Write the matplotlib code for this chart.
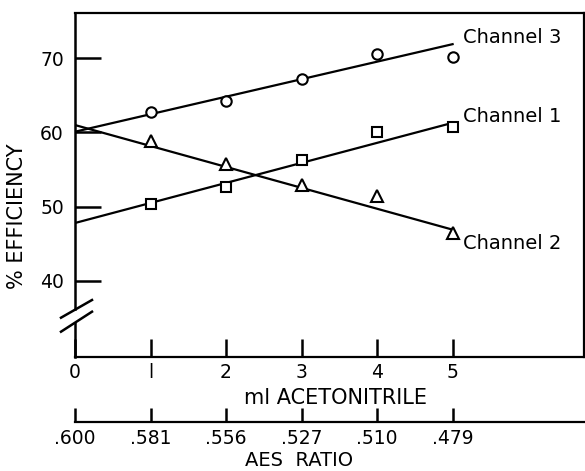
import numpy as np
import matplotlib
matplotlib.use("Agg")
import matplotlib.pyplot as plt
from matplotlib.lines import Line2D

# data
ml = [1, 2, 3, 4, 5]
ch1 = [50.4, 52.6, 56.3, 60.0, 60.8]   # squares
ch2 = [58.8, 55.8, 52.9, 51.4, 46.5]   # triangles
ch3 = [62.7, 64.2, 67.2, 70.6, 70.2]   # circles

# fitted lines (end points at 0 and 5 ml)
fit_x = [0, 5]
fit1 = [47.8, 61.3]
fit2 = [61.0, 46.9]
fit3 = [60.1, 71.9]

aes_pos = [0, 1, 2, 3, 4, 5]
aes_labels = [".600", ".581", ".556", ".527", ".510", ".479"]

W, H = 585, 471
fig = plt.figure(figsize=(W / 100, H / 100), dpi=100)
plt.rcParams['font.family'] = ['DejaVu Sans']

L, R, T, B = 75, 584, 13, 357
ax = fig.add_axes([L / W, 1 - B / H, (R - L) / W, (B - T) / H])
ax.set_xlim(0, 6.74)
ax.set_ylim(29.74, 76.1)

lw = 1.6
ax.plot(fit_x, fit3, color='black', lw=lw)
ax.plot(fit_x, fit1, color='black', lw=lw)
ax.plot(fit_x, fit2, color='black', lw=lw)
ax.plot(ml, ch3, 'o', mfc='white', mec='black', mew=1.5, ms=7.5)
ax.plot(ml, ch1, 's', mfc='white', mec='black', mew=1.5, ms=7.5)
ax.plot(ml, ch2, '^', mfc='white', mec='black', mew=1.5, ms=8.5)

ax.text(5.14, 72.8, "Channel 3", fontsize=14, va='center', ha='left')
ax.text(5.14, 62.1, "Channel 1", fontsize=14, va='center', ha='left')
ax.text(5.14, 45.1, "Channel 2", fontsize=14, va='center', ha='left')

ax.set_yticks([40, 50, 60, 70])
ax.set_xticks([0, 1, 2, 3, 4, 5])
ax.tick_params(axis='y', direction='in', length=19, width=1.8, labelsize=13.5, pad=8)
ax.tick_params(axis='x', direction='in', length=13, width=1.8, labelsize=13.5, pad=4)
ax.set_xticklabels(["0", "l", "2", "3", "4", "5"])
for s in ['top', 'right', 'bottom']:
    ax.spines[s].set_linewidth(1.6)

# left spine with a break
ax.spines['left'].set_visible(False)
tr = ax.get_yaxis_transform()
ax.plot([0, 0], [36.2, 76.1], transform=tr, color='black', lw=1.8, clip_on=False)
ax.plot([0, 0], [29.74, 34.3], transform=tr, color='black', lw=1.8, clip_on=False)
for y0, y1 in [(317.7, 300.0), (331.7, 311.7)]:
    fig.add_artist(Line2D([61 / W, 92 / W], [1 - y0 / H, 1 - y1 / H],
                          color='black', lw=1.8))

ax.set_xlabel("ml ACETONITRILE", fontsize=15, va='center', ha='center')
ax.xaxis.set_label_coords(335.5 / W, 1 - 397.5 / H, transform=fig.transFigure)
ax.set_ylabel("% EFFICIENCY", fontsize=15, va='center', ha='center')
ax.yaxis.set_label_coords(17 / W, 1 - 216 / H, transform=fig.transFigure)

# second scale: AES ratio
y2 = 421.7
ax2 = fig.add_axes([L / W, 1 - y2 / H, (R - L) / W, 1e-4])
ax2.set_xlim(ax.get_xlim())
ax2.set_yticks([])
for s in ['top', 'right', 'left']:
    ax2.spines[s].set_visible(False)
ax2.spines['bottom'].set_linewidth(1.6)
ax2.set_facecolor('none')
ax2.set_xticks(aes_pos)
ax2.set_xticklabels(aes_labels)
ax2.tick_params(axis='x', direction='in', length=10, width=1.8, labelsize=13.5, pad=5)
ax2.set_xlabel("AES  RATIO", fontsize=14, va='top', ha='center')
ax2.xaxis.set_label_coords(299 / W, 1 - 451 / H, transform=fig.transFigure)

fig.savefig("out.png", dpi=100)
